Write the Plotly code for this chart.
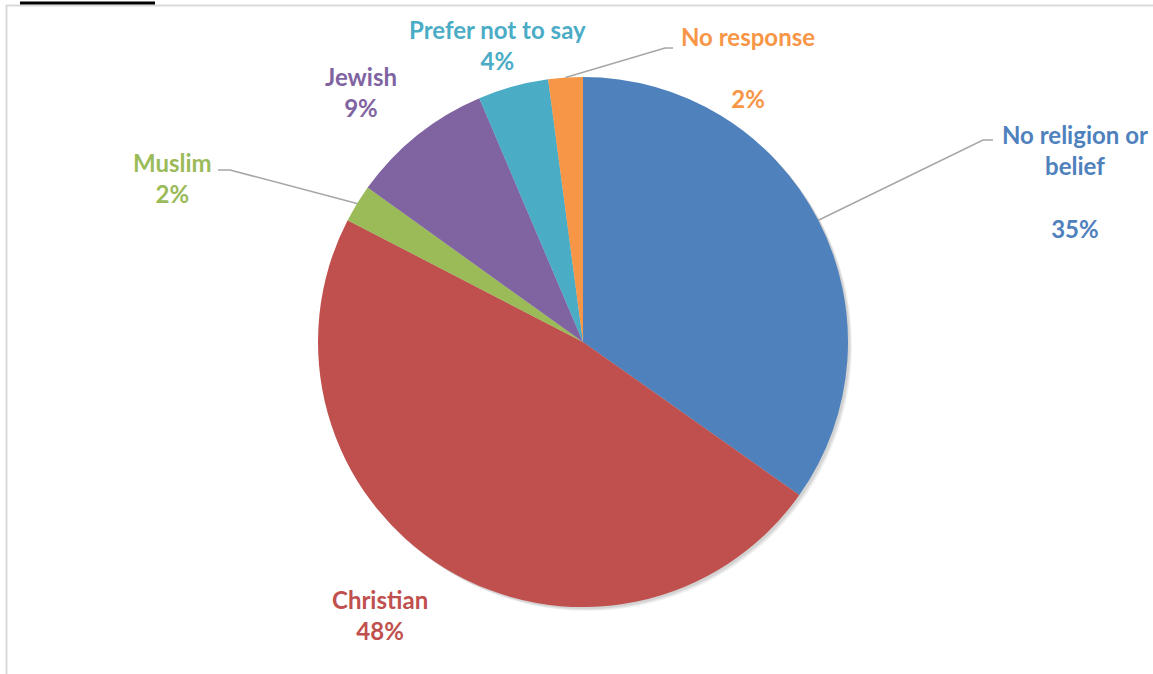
import math
import plotly.graph_objects as go

# ---- data ----
categories = ["No religion or belief", "Christian", "Muslim", "Jewish", "Prefer not to say", "No response"]
values = [34.8, 47.8, 2.3, 8.7, 4.3, 2.1]
label_lines = [["No religion or", "belief", ""], ["Christian"], ["Muslim"], ["Jewish"], ["Prefer not to say"], ["No response", ""]]
colors = ["#4F81BD", "#C0504D", "#9BBB59", "#8064A2", "#4BACC6", "#F79646"]

# ---- layout constants (pixels) ----
W, H = 1153, 674
CX, CY, R = 583, 342, 265
# label centre positions (pixels)
label_pos = [(1075, 181), (380, 615), (172, 178), (361, 92), (497, 45), (748, 67)]
# leader lines: index -> (elbow point, end point) in pixels
leaders = {0: [(983, 140), (993, 140)], 2: [(230, 170), (218, 170)], 5: [(665, 48), (673, 48)]}

def px(x):
    return x / W

def py(y):
    return 1 - y / H

total = sum(values)
pcts = [round(v / total * 100) for v in values]

fig = go.Figure()
fig.add_trace(go.Pie(
    labels=categories, values=values, sort=False, direction="clockwise", rotation=0,
    marker=dict(colors=colors, line=dict(width=0)),
    textinfo="none", hoverinfo="label+percent", showlegend=False,
    domain=dict(x=[px(CX - R), px(CX + R)], y=[py(CY + R), py(CY - R)]),
))

annotations = []
for i, (lines, c) in enumerate(zip(label_lines, colors)):
    text = "<br>".join(lines + [f"{pcts[i]}%"])
    x, y = label_pos[i]
    annotations.append(dict(
        x=px(x), y=py(y), xref="paper", yref="paper", text=text, showarrow=False,
        xanchor="center", yanchor="middle", align="center",
        font=dict(family="Lato", size=24, color=c, weight="bold"),
    ))

shapes = []
# soft shadow behind the pie
for off, a in [(4, 0.05), (3, 0.06), (2, 0.07)]:
    shapes.append(dict(type="circle", xref="paper", yref="paper", layer="below",
                       x0=px(CX - R + off), x1=px(CX + R + off), y0=py(CY + R + off), y1=py(CY - R + off),
                       fillcolor=f"rgba(0,0,0,{a})", line=dict(width=0)))

# leader lines from slice mid-angle on the rim
cum = 0
for i, v in enumerate(values):
    mid = (cum + v / 2) / total * 2 * math.pi
    cum += v
    if i in leaders:
        sx = CX + R * math.sin(mid)
        sy = CY - R * math.cos(mid)
        pts = [(sx, sy)] + leaders[i]
        path = "M " + " L ".join(f"{px(a)},{py(b)}" for a, b in pts)
        shapes.append(dict(type="path", xref="paper", yref="paper", path=path,
                           line=dict(color="#A6A6A6", width=1.5)))

# frame lines
shapes.append(dict(type="line", xref="paper", yref="paper", x0=px(6), x1=px(1153), y0=py(5.5), y1=py(5.5),
                   line=dict(color="#D9D9D9", width=2)))
shapes.append(dict(type="line", xref="paper", yref="paper", x0=px(6.5), x1=px(6.5), y0=py(5), y1=py(674),
                   line=dict(color="#D9D9D9", width=2)))
shapes.append(dict(type="line", xref="paper", yref="paper", x0=px(20), x1=px(155), y0=py(3), y1=py(3),
                   line=dict(color="#000000", width=3)))

fig.update_layout(
    width=W, height=H, margin=dict(l=0, r=0, t=0, b=0),
    paper_bgcolor="white", plot_bgcolor="white",
    annotations=annotations, shapes=shapes,
)
fig.write_html("out.html", config={"displayModeBar": False},
               post_script="document.body.style.margin='0';document.body.style.overflow='hidden';")
